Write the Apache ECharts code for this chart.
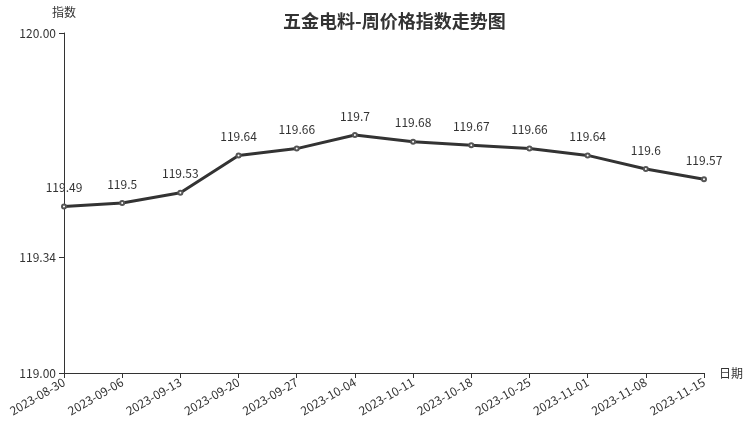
<!DOCTYPE html>
<html><head><meta charset="utf-8">
<script src="https://cdn.jsdelivr.net/npm/echarts@6/dist/echarts.min.js"></script>
<style>html,body{margin:0;padding:0;background:#fff}#c{width:752px;height:427px}</style>
</head><body><div id="c"></div>
<script>
const categories = ['2023-08-30','2023-09-06','2023-09-13','2023-09-20','2023-09-27','2023-10-04','2023-10-11','2023-10-18','2023-10-25','2023-11-01','2023-11-08','2023-11-15'];
const values = [119.49,119.5,119.53,119.64,119.66,119.7,119.68,119.67,119.66,119.64,119.6,119.57];
const yTicks = [119.00, 119.34, 120.00];
const font = '"Noto Sans CJK SC", "Noto Sans", sans-serif';
const chart = echarts.init(document.getElementById('c'));
chart.setOption({
  animation: false,
  textStyle: {fontFamily: font},
  title: {text: '五金电料-周价格指数走势图', left: 278, top: 7,
    textStyle: {fontSize: 18, fontWeight: 'bold', color: '#333', fontFamily: font}},
  grid: {left: 64, right: 48, top: 33, bottom: 54},
  xAxis: {type: 'category', data: categories, boundaryGap: false,
    name: '日期', nameLocation: 'end', nameGap: 15,
    nameTextStyle: {color: '#333', fontSize: 12},
    axisLine: {lineStyle: {color: '#333'}},
    axisTick: {alignWithLabel: true, lineStyle: {color: '#333'}},
    axisLabel: {rotate: 30, color: '#333', fontSize: 12, interval: 0, margin: 8}},
  yAxis: {type: 'value', min: 119, max: 120,
    name: '指数', nameLocation: 'end', nameGap: 15,
    nameTextStyle: {color: '#333', fontSize: 12, align: 'center'},
    axisLine: {show: true, lineStyle: {color: '#333'}},
    axisTick: {show: true, customValues: yTicks, lineStyle: {color: '#333'}},
    axisLabel: {customValues: yTicks, color: '#333', fontSize: 12,
      formatter: v => v.toFixed(2)},
    splitLine: {show: false}},
  series: [{type: 'line', data: values, symbol: 'emptyCircle', symbolSize: 4,
    lineStyle: {color: '#333', width: 3},
    itemStyle: {color: '#555', borderWidth: 1},
    label: {show: true, position: 'top', distance: 10, color: '#333', fontSize: 12}}]
});
</script></body></html>
